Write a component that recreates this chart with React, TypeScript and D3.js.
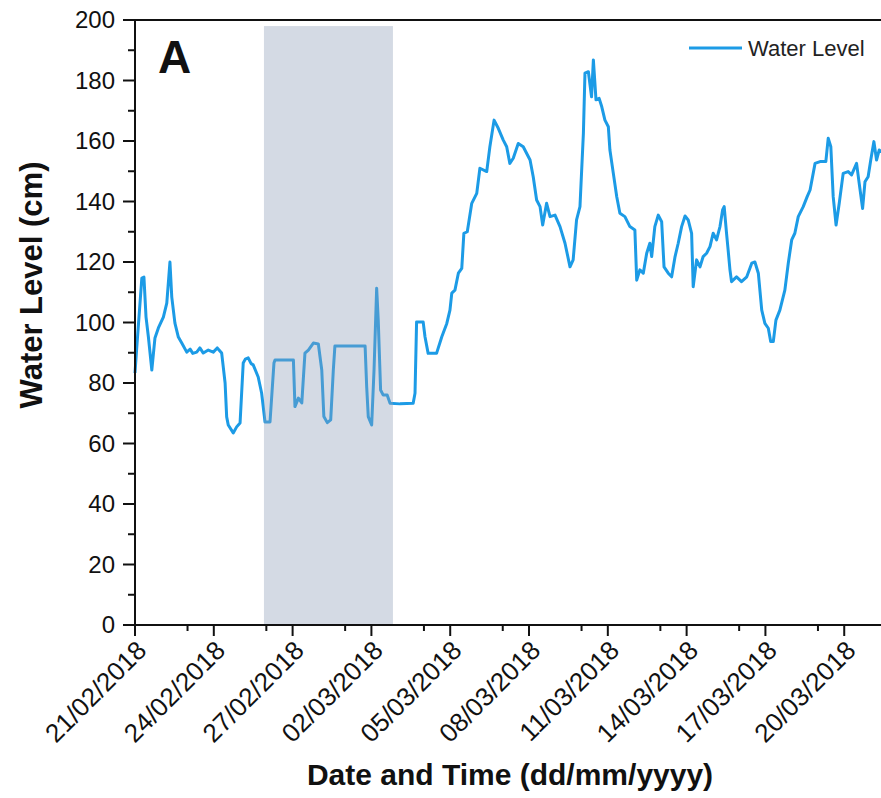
import React from 'react';
import * as d3 from 'd3';

// water level series: [days since 21/02/2018 00:00, level in cm]
const waterLevel: [number, number][] = [
  [0.0, 83.3], [0.06, 90.9], [0.26, 114.7], [0.34, 115.0], [0.42, 101.8], [0.51, 95.2], [0.64, 84.3],
  [0.76, 94.9], [0.89, 98.2], [1.08, 101.8], [1.21, 106.4], [1.33, 120.0], [1.4, 108.4], [1.52, 99.8],
  [1.65, 95.2], [1.78, 93.2], [1.97, 90.2], [2.1, 91.2], [2.2, 89.8], [2.35, 90.2], [2.47, 91.6], [2.6, 89.9], [2.79, 90.9],
  [2.98, 90.2], [3.13, 91.6], [3.3, 89.9], [3.43, 80.0], [3.49, 68.8], [3.55, 66.1], [3.74, 63.5],
  [3.87, 65.5], [4.0, 66.8], [4.12, 86.6], [4.2, 87.9], [4.31, 88.3], [4.42, 86.4], [4.5, 86.0], [4.69, 82.0], [4.82, 76.7],
  [4.95, 67.1], [5.14, 67.1], [5.29, 86.6], [5.33, 87.6], [6.03, 87.6], [6.09, 72.2], [6.22, 75.0],
  [6.35, 73.4], [6.47, 89.9], [6.6, 90.9], [6.79, 93.2], [6.98, 92.9], [7.11, 84.3], [7.19, 68.9],
  [7.32, 66.9], [7.45, 67.8], [7.55, 84.3], [7.61, 92.2], [8.76, 92.2], [8.82, 78.8], [8.88, 68.9],
  [9.01, 66.1], [9.1, 84.3], [9.2, 111.3], [9.26, 100.8], [9.35, 77.7], [9.45, 76.0], [9.6, 76.0],
  [9.71, 73.3], [10.09, 73.1], [10.59, 73.3], [10.66, 76.6], [10.72, 100.2], [10.97, 100.2],
  [11.04, 95.3], [11.16, 89.8], [11.48, 89.8], [11.68, 95.3], [11.87, 99.7], [11.99, 104.1],
  [12.06, 109.7], [12.18, 110.7], [12.31, 116.3], [12.44, 117.9], [12.52, 129.5], [12.65, 130.0],
  [12.82, 139.4], [13.01, 142.7], [13.13, 151.0], [13.39, 149.9], [13.51, 158.1], [13.67, 166.9],
  [13.83, 164.2], [14.02, 160.3], [14.15, 158.1], [14.27, 152.6], [14.4, 154.3], [14.59, 159.2],
  [14.78, 158.1], [15.04, 153.7], [15.16, 148.2], [15.29, 140.5], [15.42, 138.3], [15.52, 132.2],
  [15.67, 139.4], [15.8, 135.0], [15.99, 135.5], [16.18, 131.7], [16.37, 126.2], [16.56, 118.4],
  [16.68, 120.7], [16.81, 133.9], [16.94, 138.3], [17.07, 162.5], [17.13, 182.4], [17.26, 182.9],
  [17.38, 174.6], [17.45, 186.8], [17.55, 173.6], [17.67, 174.1], [17.77, 171.3], [17.89, 166.9],
  [18.02, 164.7], [18.08, 157.0], [18.21, 149.3], [18.34, 141.6], [18.46, 136.1], [18.65, 135.0],
  [18.84, 131.7], [19.03, 130.6], [19.1, 114.0], [19.22, 117.4], [19.35, 116.3], [19.48, 122.9],
  [19.6, 126.2], [19.67, 121.8], [19.79, 131.7], [19.92, 135.5], [20.05, 133.3], [20.14, 118.4],
  [20.3, 116.3], [20.43, 115.1], [20.56, 121.8], [20.68, 126.2], [20.81, 131.7], [20.94, 135.2],
  [21.06, 133.9], [21.19, 129.5], [21.25, 111.8], [21.38, 120.7], [21.51, 118.4], [21.63, 121.8],
  [21.76, 122.9], [21.89, 125.1], [22.01, 129.5], [22.14, 127.3], [22.27, 131.7], [22.37, 137.2],
  [22.43, 138.3], [22.52, 129.5], [22.58, 124.0], [22.65, 117.4], [22.71, 113.5], [22.9, 115.1],
  [23.09, 113.5], [23.29, 115.1], [23.48, 119.6], [23.6, 120.0], [23.73, 116.3], [23.86, 104.1],
  [23.98, 99.7], [24.11, 98.1], [24.2, 93.7], [24.3, 93.7], [24.4, 100.8], [24.55, 104.1],
  [24.74, 110.7], [24.87, 119.6], [25.0, 127.3], [25.12, 129.5], [25.25, 135.0], [25.44, 138.3],
  [25.59, 141.6], [25.7, 143.8], [25.89, 152.6], [26.08, 153.2], [26.3, 153.2], [26.39, 160.9],
  [26.49, 158.1], [26.58, 141.6], [26.69, 132.2], [26.81, 139.4], [26.96, 149.3], [27.15, 149.9],
  [27.28, 148.8], [27.47, 152.6], [27.57, 146.0], [27.7, 137.7], [27.79, 146.5], [27.91, 148.2],
  [28.01, 153.7], [28.13, 159.8], [28.23, 153.7], [28.33, 157.0], [28.43, 156.4],
];

const xTickLabels = [
  '21/02/2018', '24/02/2018', '27/02/2018', '02/03/2018', '05/03/2018',
  '08/03/2018', '11/03/2018', '14/03/2018', '17/03/2018', '20/03/2018',
];
const yTicks = [0, 20, 40, 60, 80, 100, 120, 140, 160, 180, 200];
const yMinorTicks = [10, 30, 50, 70, 90, 110, 130, 150, 170, 190];

// gap in the record (days since start, top in cm)
const shadedSpan = [4.91, 9.82];
const shadedTop = 198;

const startDate = Date.UTC(2018, 1, 21);
const dayMs = 86400000;
const endDay = 28.4;

const FONT = '"Liberation Sans", Arial, sans-serif';
const LINE_COLOR = '#1c9be6';

export default function App() {
  const parse = d3.utcParse('%d/%m/%Y');
  const toDate = (d: number) => new Date(startDate + d * dayMs);

  const x = d3.scaleUtc().domain([toDate(0), toDate(endDay)]).range([135, 881]);
  const y = d3.scaleLinear().domain([0, 200]).range([625, 20]);

  const majorTicks = xTickLabels.map((s) => ({ label: s, date: parse(s) as Date }));
  const minorTicks = majorTicks
    .map((t) => d3.utcDay.offset(t.date, 2))
    .filter((d) => d <= toDate(endDay));

  const line = d3.line<[number, number]>()
    .x((d) => x(toDate(d[0])))
    .y((d) => y(d[1]));

  const x0 = x.range()[0];
  const x1 = x.range()[1];
  const yBottom = y(0);
  const yTop = y(200);

  return (
    <svg width={881} height={798} style={{ position: 'absolute', left: 0, top: 0, background: '#fff' }}>
      <path d={line(waterLevel) || ''} fill="none" stroke={LINE_COLOR} strokeWidth={3} strokeLinejoin="round" />

      <rect
        x={x(toDate(shadedSpan[0]))}
        y={y(shadedTop)}
        width={x(toDate(shadedSpan[1])) - x(toDate(shadedSpan[0]))}
        height={yBottom - y(shadedTop)}
        fill="#8f9db8"
        opacity={0.38}
      />

      {/* frame */}
      <line x1={x0} x2={x1} y1={yTop} y2={yTop} stroke="#111" strokeWidth={2} />
      <line x1={x0} x2={x0} y1={yTop - 1} y2={yBottom + 1} stroke="#111" strokeWidth={2} />
      <line x1={x0 - 1} x2={x1} y1={yBottom} y2={yBottom} stroke="#111" strokeWidth={2} />

      {/* y axis */}
      {yTicks.map((t) => (
        <g key={'y' + t}>
          <line x1={x0 - 12} x2={x0} y1={y(t)} y2={y(t)} stroke="#111" strokeWidth={2} />
          <text x={x0 - 20} y={y(t)} dy="0.35em" textAnchor="end" fontFamily={FONT} fontSize={24} fill="#111">{t}</text>
        </g>
      ))}
      {yMinorTicks.map((t) => (
        <line key={'ym' + t} x1={x0 - 7} x2={x0} y1={y(t)} y2={y(t)} stroke="#111" strokeWidth={2} />
      ))}

      {/* x axis */}
      {majorTicks.map((t) => (
        <g key={t.label}>
          <line x1={x(t.date)} x2={x(t.date)} y1={yBottom} y2={yBottom + 11} stroke="#111" strokeWidth={2} />
          <text
            transform={`translate(${x(t.date) + 13},${yBottom + 27}) rotate(-45)`}
            textAnchor="end"
            fontFamily={FONT}
            fontSize={26}
            fill="#111"
          >{t.label}</text>
        </g>
      ))}
      {minorTicks.map((d, i) => (
        <line key={'xm' + i} x1={x(d)} x2={x(d)} y1={yBottom} y2={yBottom + 6} stroke="#111" strokeWidth={2} />
      ))}

      {/* titles */}
      <text x={510} y={785} textAnchor="middle" fontFamily={FONT} fontSize={30} fontWeight="bold" fill="#111">
        Date and Time (dd/mm/yyyy)
      </text>
      <text transform="translate(42,285) rotate(-90)" textAnchor="middle" fontFamily={FONT} fontSize={31} fontWeight="bold" fill="#111">
        Water Level (cm)
      </text>
      <text x={158} y={73} fontFamily={FONT} fontSize={46} fontWeight="bold" fill="#111">A</text>

      {/* legend */}
      <line x1={689} x2={742} y1={48} y2={48} stroke={LINE_COLOR} strokeWidth={3} />
      <text x={748} y={56} fontFamily={FONT} fontSize={22} fill="#222">Water Level</text>
    </svg>
  );
}
